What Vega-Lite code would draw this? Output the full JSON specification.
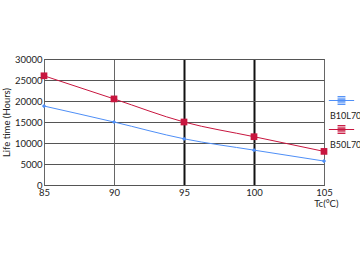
{
  "$schema": "https://vega.github.io/schema/vega-lite/v6.json",
  "width": 280,
  "height": 126,
  "padding": {"top": 54, "left": 1, "right": 0, "bottom": 0},
  "background": "white",
  "config": {
    "font": "Lato",
    "view": {"stroke": "#333", "strokeWidth": 1},
    "axis": {"labelFont": "Lato", "titleFont": "Lato", "labelColor": "#222", "titleColor": "#222", "labelFontSize": 9.5, "titleFontSize": 9.5, "titleFontWeight": "normal", "domain": false, "ticks": false}
  },
  "data": {
    "values": [
      {"tc": 85, "life": 18800, "series": "B10L70"},
      {"tc": 90, "life": 15000, "series": "B10L70"},
      {"tc": 95, "life": 11000, "series": "B10L70"},
      {"tc": 100, "life": 8300, "series": "B10L70"},
      {"tc": 105, "life": 5700, "series": "B10L70"},
      {"tc": 85, "life": 26000, "series": "B50L70"},
      {"tc": 90, "life": 20500, "series": "B50L70"},
      {"tc": 95, "life": 15000, "series": "B50L70"},
      {"tc": 100, "life": 11500, "series": "B50L70"},
      {"tc": 105, "life": 8000, "series": "B50L70"}
    ]
  },
  "encoding": {
    "x": {
      "field": "tc", "type": "quantitative",
      "scale": {"domain": [85, 105], "nice": false, "zero": false},
      "axis": {
        "values": [85, 90, 95, 100, 105], "format": "d",
        "title": "Tc(°C)", "titleAnchor": "end", "titleAlign": "right", "titlePadding": 2, "titleX": 294,
        "labelPadding": 2, "labelFlush": false,
        "gridColor": {"condition": {"test": "datum.value == 95 || datum.value == 100", "value": "#111"}, "value": "#666"},
        "gridWidth": {"condition": {"test": "datum.value == 95 || datum.value == 100", "value": 2}, "value": 1}
      }
    },
    "y": {
      "field": "life", "type": "quantitative",
      "scale": {"domain": [0, 30000], "nice": false},
      "axis": {"values": [0, 5000, 10000, 15000, 20000, 25000, 30000], "format": "d", "title": "Life time (Hours)", "gridColor": "#555", "gridWidth": 1, "labelPadding": 2, "titlePadding": 3}
    },
    "color": {
      "field": "series", "type": "nominal",
      "scale": {"domain": ["B10L70", "B50L70"], "range": ["#4f8ff7", "#c8163f"]},
      "legend": null
    }
  },
  "resolve": {"legend": {"color": "independent"}},
  "layer": [
    {"mark": {"type": "line", "interpolate": "monotone", "strokeWidth": 1},
     "encoding": {
       "color": {
         "field": "series", "type": "nominal",
         "scale": {"domain": ["B10L70", "B50L70"], "range": ["#4f8ff7", "#c8163f"]},
         "legend": {
           "title": null, "orient": "none", "legendX": 289, "legendY": 33,
           "symbolType": "M-1.6,0H1.6M-0.5,-0.5H0.5M-0.5,-0.3H0.5M-0.5,-0.1H0.5M-0.5,0.1H0.5M-0.5,0.3H0.5M-0.5,0.5H0.5",
           "symbolSize": 250, "symbolStrokeWidth": 1,
           "labelExpr": "['', datum.label]",
           "labelBaseline": "top", "labelOffset": -20, "labelFontSize": 9, "labelFont": "Lato", "labelColor": "#222",
           "rowPadding": 0, "padding": 0
         }
       }
     }},
    {"transform": [{"filter": "datum.series == 'B10L70'"}],
     "mark": {"type": "point", "filled": true, "opacity": 1, "shape": "diamond", "size": 18}},
    {"transform": [{"filter": "datum.series == 'B50L70'"}],
     "mark": {"type": "point", "filled": true, "opacity": 1, "shape": "square", "size": 45}}
  ]
}
